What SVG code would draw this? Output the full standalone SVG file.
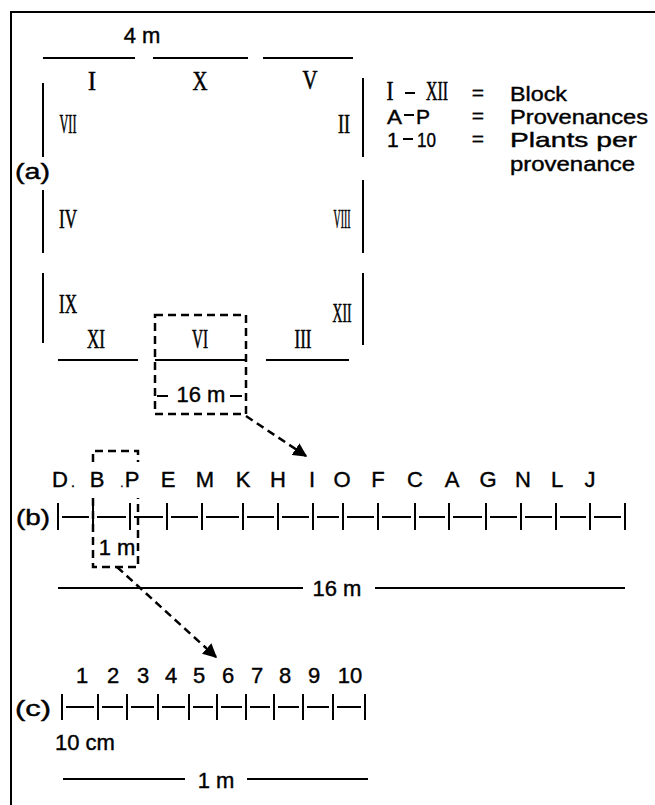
<svg xmlns="http://www.w3.org/2000/svg" width="655" height="805" viewBox="0 0 655 805">
<defs>
<marker id="ah" viewBox="0 0 10 10" refX="9" refY="5" markerWidth="14" markerHeight="14" markerUnits="userSpaceOnUse" orient="auto">
<path d="M0,0 L10,5 L0,10 z" fill="#000"/>
</marker>
<style>
.ln{stroke:#000;stroke-width:2;fill:none}
.dsh{stroke:#000;stroke-width:2.5;fill:none;stroke-dasharray:8 5}
.sans{font-family:"Liberation Sans",Arial,sans-serif;fill:#000;font-size:22px;stroke:#000;stroke-width:0.4}
.rom{font-family:"Liberation Serif","Times New Roman",serif;fill:#000;font-size:28px;text-anchor:middle;stroke:#000;stroke-width:0.6}
.mid{text-anchor:middle}
.leg{font-size:21px}
</style>
</defs>
<rect width="655" height="805" fill="#fff"/>
<g id="frame">
<path class="ln" d="M10,12 H655 M11,11 V805" stroke-width="2.5"/>
</g>
<g id="plot-a">
<text class="sans mid" x="142" y="43">4 m</text>
<path class="ln" d="M43,58 H135 M153,58 H248 M263,58 H353"/>
<path class="ln" d="M43,83 V157 M43,190 V253 M43,273 V343"/>
<path class="ln" d="M363,78 V157 M363,180 V253 M363,273 V345"/>
<path class="ln" d="M58,360 H138 M155,360 H247 M266,360 H349"/>
<text class="sans" x="15" y="179" textLength="35" lengthAdjust="spacingAndGlyphs" stroke-width="0">(a)</text>
<text class="rom" x="92" y="90" textLength="8" lengthAdjust="spacingAndGlyphs">I</text>
<text class="rom" x="200" y="90" textLength="15" lengthAdjust="spacingAndGlyphs">X</text>
<text class="rom" x="310" y="89" textLength="15" lengthAdjust="spacingAndGlyphs">V</text>
<text class="rom" x="68" y="133" textLength="17" lengthAdjust="spacingAndGlyphs">VII</text>
<text class="rom" x="344" y="133" textLength="12" lengthAdjust="spacingAndGlyphs">II</text>
<text class="rom" x="68" y="228" textLength="18" lengthAdjust="spacingAndGlyphs">IV</text>
<text class="rom" x="342" y="228" textLength="17" lengthAdjust="spacingAndGlyphs">VIII</text>
<text class="rom" x="68" y="313" textLength="18" lengthAdjust="spacingAndGlyphs">IX</text>
<text class="rom" x="342" y="322" textLength="19" lengthAdjust="spacingAndGlyphs">XII</text>
<text class="rom" x="96" y="348" textLength="18" lengthAdjust="spacingAndGlyphs">XI</text>
<text class="rom" x="200" y="348" textLength="16" lengthAdjust="spacingAndGlyphs">VI</text>
<text class="rom" x="303" y="348" textLength="17" lengthAdjust="spacingAndGlyphs">III</text>
</g>
<g id="zoom-box-a">
<rect class="dsh" x="155" y="315" width="91" height="99"/>
<path class="ln" d="M157,396 H168 M230,396 H242"/>
<text class="sans mid" x="201" y="402">16 m</text>
</g>
<g id="legend">
<text class="rom" x="390" y="100" font-size="24" textLength="7" lengthAdjust="spacingAndGlyphs">I</text>
<path class="ln" d="M405,93 H415"/>
<text class="rom" x="437" y="100" font-size="24" textLength="22" lengthAdjust="spacingAndGlyphs">XII</text>
<text class="sans leg mid" x="478" y="100">=</text>
<text class="sans leg" x="510" y="101" textLength="57" lengthAdjust="spacingAndGlyphs">Block</text>
<text class="sans leg" x="387" y="124" textLength="15" lengthAdjust="spacingAndGlyphs">A</text>
<path class="ln" d="M404,115 H414"/>
<text class="sans leg" x="416" y="124" textLength="14" lengthAdjust="spacingAndGlyphs">P</text>
<text class="sans leg mid" x="478" y="123">=</text>
<text class="sans leg" x="510" y="124" textLength="138" lengthAdjust="spacingAndGlyphs">Provenances</text>
<text class="sans leg" x="387" y="147">1</text>
<path class="ln" d="M403,139 H413"/>
<text class="sans leg" x="417" y="147" textLength="19" lengthAdjust="spacingAndGlyphs">10</text>
<text class="sans leg mid" x="478" y="146">=</text>
<text class="sans leg" x="510" y="147" textLength="127" lengthAdjust="spacingAndGlyphs">Plants per</text>
<text class="sans leg" x="510" y="171" textLength="125" lengthAdjust="spacingAndGlyphs">provenance</text>
</g>
<g id="row-b">
<text class="sans" x="16" y="525" textLength="34" lengthAdjust="spacingAndGlyphs" stroke-width="0">(b)</text>
<g class="sans mid">
<text x="60" y="487">D</text>
<text x="73" y="487" font-size="14">.</text>
<text x="97" y="487">B</text>
<text x="122" y="487" font-size="10">.</text>
<text x="132" y="487">P</text>
<text x="168" y="487">E</text>
<text x="205" y="487">M</text>
<text x="243" y="487">K</text>
<text x="278" y="487">H</text>
<text x="312" y="487">I</text>
<text x="342" y="487">O</text>
<text x="378" y="487">F</text>
<text x="415" y="487">C</text>
<text x="452" y="487">A</text>
<text x="488" y="487">G</text>
<text x="523" y="487">N</text>
<text x="557" y="487">L</text>
<text x="590" y="487">J</text>
</g>
<path class="ln" d="M58,503 V530 M93,503 V530 M130,503 V530 M167,503 V530 M202,503 V530 M243,503 V530 M278,503 V530 M313,503 V530 M343,503 V530 M378,503 V530 M415,503 V530 M449,503 V530 M486,503 V530 M521,503 V530 M556,503 V530 M590,503 V530 M625,503 V530"/>
<path class="ln" d="M62,517 H89 M97,517 H126 M134,517 H163 M171,517 H198 M206,517 H239 M247,517 H274 M282,517 H309 M317,517 H339 M347,517 H374 M382,517 H411 M419,517 H445 M453,517 H482 M490,517 H517 M525,517 H552 M560,517 H586 M594,517 H621"/>
<path class="ln" d="M58,588 H303 M375,588 H625"/>
<text class="sans mid" x="337" y="596">16 m</text>
</g>
<g id="zoom-box-b">
<path class="dsh" d="M93,462 V451 H138 V462 M93,498 V567 H138 V498"/>
<text class="sans mid" x="117" y="555">1 m</text>
</g>
<g id="row-c">
<text class="sans" x="15" y="716" textLength="36" lengthAdjust="spacingAndGlyphs" stroke-width="0">(c)</text>
<g class="sans mid">
<text x="82" y="683">1</text>
<text x="113" y="683">2</text>
<text x="143" y="683">3</text>
<text x="171" y="683">4</text>
<text x="199" y="683">5</text>
<text x="228" y="683">6</text>
<text x="257" y="683">7</text>
<text x="285" y="683">8</text>
<text x="314" y="683">9</text>
<text x="350" y="683">10</text>
</g>
<path class="ln" d="M62,694 V720 M98,694 V720 M127,694 V720 M158,694 V720 M189,694 V720 M217,694 V720 M246,694 V720 M274,694 V720 M303,694 V720 M333,694 V720 M365,694 V720"/>
<path class="ln" d="M66,707 H94 M102,707 H123 M131,707 H154 M162,707 H185 M193,707 H213 M221,707 H242 M250,707 H270 M278,707 H299 M307,707 H329 M337,707 H361"/>
<text class="sans" x="55" y="750">10 cm</text>
<path class="ln" d="M63,779 H185 M247,779 H368"/>
<text class="sans mid" x="216" y="788">1 m</text>
</g>
<g id="connectors">
<line class="dsh" x1="246" y1="416" x2="306" y2="456" marker-end="url(#ah)"/>
<line class="dsh" x1="117" y1="567" x2="216" y2="657" marker-end="url(#ah)"/>
</g>
</svg>
